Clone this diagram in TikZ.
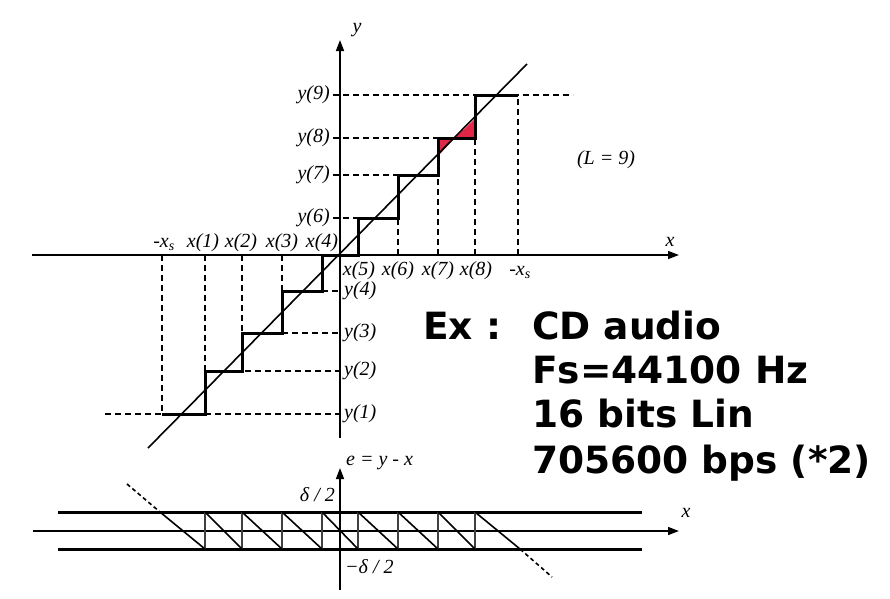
\documentclass[tikz,border=0pt]{standalone}
\usepackage{fontspec}
\setmainfont{Liberation Serif}
\newfontfamily\boldsans{DejaVu Sans}
\usetikzlibrary{arrows.meta}
\definecolor{errred}{RGB}{226,38,72}

\begin{document}
\begin{tikzpicture}[x=1pt, y=-1pt,
    lbl/.style={font=\fontsize{20}{23}\selectfont\itshape, inner sep=1pt},
    bigtxt/.style={font=\boldsans\bfseries\fontsize{37.5}{44}\selectfont, inner sep=0pt, anchor=base west},
    stair/.style={line width=3pt},
    guide/.style={line width=2pt, dash pattern=on 6pt off 4pt},
    thinline/.style={line width=1.6pt},
    axis/.style={line width=1.5pt, -{Triangle[length=11pt,width=8pt]}}]
    \useasboundingbox (0,0) rectangle (890,598);

    % Axes of the quantizer
    \draw[axis] (32,255) -- (679,255);
    \draw[axis] (340,438) -- (340,40);
    \node[lbl] (xname) at (670,242) {x};
    \node[lbl] (yname) at (357,30) {y};

    % Horizontal guides
    \draw[guide] (105,414) -- (340,414);
    \draw[guide] (205,371) -- (340,371);
    \draw[guide] (242,333) -- (340,333);
    \draw[guide] (282,291) -- (340,291);
    \draw[guide] (333,218) -- (358,218);
    \draw[guide] (333,175) -- (398,175);
    \draw[guide] (333,138) -- (438,138);
    \draw[guide] (333,95) -- (573,95);

    % Vertical guides
    \draw[guide] (162,255) -- (162,414);
    \draw[guide] (205,255) -- (205,371);
    \draw[guide] (242,255) -- (242,333);
    \draw[guide] (282,255) -- (282,291);
    \draw[guide] (398,255) -- (398,218);
    \draw[guide] (438,255) -- (438,175);
    \draw[guide] (475,255) -- (475,138);
    \draw[guide] (518,255) -- (518,95);

    % Error areas
    \fill[errred] (438,138) -- (455,138) -- (438,156) -- cycle;
    \fill[errred] (455,138) -- (475,138) -- (475,119) -- cycle;

    % Staircase and y = x
    \draw[stair] (162,414) -| (205,371) -| (242,333) -| (282,291) -| (322,255)
        -| (358,218) -| (398,175) -| (438,138) -| (475,95) -- (518,95);
    \draw[thinline] (148,448) -- (527,64);

    % Level labels
    \node[lbl, anchor=west] (y1) at (343,414) {y(1)};
    \node[lbl, anchor=west] (y2) at (343,371) {y(2)};
    \node[lbl, anchor=west] (y3) at (343,333) {y(3)};
    \node[lbl, anchor=west] (y4) at (343,291) {y(4)};
    \node[lbl, anchor=east] (y6) at (331,218) {y(6)};
    \node[lbl, anchor=east] (y7) at (331,175) {y(7)};
    \node[lbl, anchor=east] (y8) at (331,138) {y(8)};
    \node[lbl, anchor=east] (y9) at (331,95) {y(9)};

    % Threshold labels
    \node[lbl, anchor=base] (xsl) at (164,247) {-x\textsubscript{s}};
    \node[lbl, anchor=base] (x1) at (203,247) {x(1)};
    \node[lbl, anchor=base] (x2) at (241,247) {x(2)};
    \node[lbl, anchor=base] (x3) at (282,247) {x(3)};
    \node[lbl, anchor=base] (x4) at (322,247) {x(4)};
    \node[lbl, anchor=base] (x5) at (359,275) {x(5)};
    \node[lbl, anchor=base] (x6) at (398,275) {x(6)};
    \node[lbl, anchor=base] (x7) at (438,275) {x(7)};
    \node[lbl, anchor=base] (x8) at (476,275) {x(8)};
    \node[lbl, anchor=base] (xsr) at (520,275) {-x\textsubscript{s}};
    \node[lbl] (levels) at (606,160) {(L = 9)};

    % Error plot
    \draw[stair] (58,512) -- (642,512);
    \draw[stair] (58,549) -- (642,549);
    \draw[axis] (33,531) -- (679,531);
    \draw[axis] (340,590) -- (340,468);
    \foreach \xa in {205,242,282,322,358,398,438,475}
        \draw[thinline, black!75] (\xa,512) -- (\xa,549);
    \foreach \xa/\xb in {160/205,205/242,242/282,282/322,322/358,358/398,398/438,438/475,475/520}
        \draw[thinline] (\xa,512) -- (\xb,549);
    \draw[thinline, dash pattern=on 4pt off 3pt] (127,484) -- (160,512);
    \draw[thinline, dash pattern=on 4pt off 3pt] (520,549) -- (552,577);
    \node[lbl, anchor=west] (ename) at (345,463) {e = y - x};
    \node[lbl] (ex) at (686,513) {x};
    \node[lbl, anchor=east] (dtop) at (336,495) {δ / 2};
    \node[lbl, anchor=west] (dbot) at (344,567) {−δ / 2};

    % Example
    \node[bigtxt] (exlab) at (423,339) {Ex :};
    \node[bigtxt] (cd) at (532,339) {CD audio};
    \node[bigtxt] (fs) at (532,383) {Fs=44100 Hz};
    \node[bigtxt] (bits) at (532,427) {16 bits Lin};
    \node[bigtxt] (rate) at (532,473) {705600 bps (*2)};
\end{tikzpicture}
\end{document}
